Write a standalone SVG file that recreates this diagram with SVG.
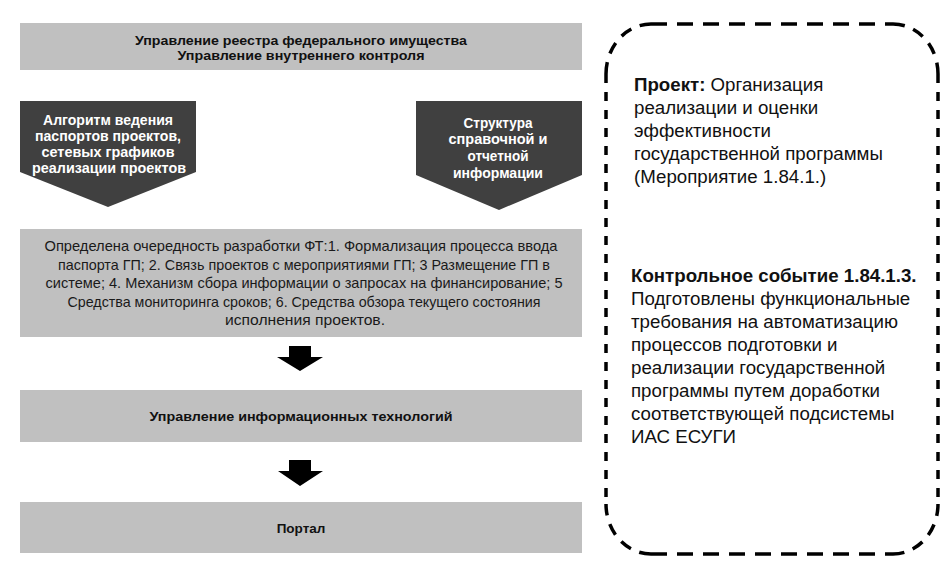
<svg xmlns="http://www.w3.org/2000/svg" width="949" height="577" viewBox="0 0 949 577">
  <style>
    .box { fill: #c0c0c0; }
    .dark { fill: #404040; }
    .hdr { font-family: "Liberation Sans", Arial, sans-serif; font-weight: bold; font-size: 13.5px; fill: #111; text-anchor: middle; }
    .wt { font-family: "Liberation Sans", Arial, sans-serif; font-weight: bold; font-size: 14px; fill: #ffffff; text-anchor: middle; }
    .nar { font-family: "Liberation Sans", Arial, sans-serif; font-size: 15px; fill: #1a1a1a; text-anchor: middle; }
    .side { font-family: "Liberation Sans", Arial, sans-serif; font-size: 18.7px; fill: #111; }
    .b { font-weight: bold; }
    .arrow { fill: #000; }
    .dash { fill: none; stroke: #000; stroke-width: 3.5; }
  </style>

  <g id="top-box">
    <rect class="box" x="20" y="23" width="562" height="47"/>
    <text class="hdr" x="301" y="45" textLength="332" lengthAdjust="spacingAndGlyphs">Управление реестра федерального имущества</text>
    <text class="hdr" x="301" y="60" textLength="247" lengthAdjust="spacingAndGlyphs">Управление внутреннего контроля</text>
  </g>

  <g id="algorithm">
    <polygon class="dark" points="20,101 196,101 196,172 108,207 20,172"/>
    <text class="wt" x="108" y="125" textLength="130" lengthAdjust="spacingAndGlyphs">Алгоритм ведения</text>
    <text class="wt" x="108" y="141" textLength="146" lengthAdjust="spacingAndGlyphs">паспортов проектов,</text>
    <text class="wt" x="108" y="157" textLength="133" lengthAdjust="spacingAndGlyphs">сетевых графиков</text>
    <text class="wt" x="109" y="173" textLength="154" lengthAdjust="spacingAndGlyphs">реализации проектов</text>
  </g>

  <g id="structure">
    <polygon class="dark" points="416,101 582,101 582,175 499,210 416,175"/>
    <text class="wt" x="498" y="128" textLength="69" lengthAdjust="spacingAndGlyphs">Структура</text>
    <text class="wt" x="498" y="144" textLength="99" lengthAdjust="spacingAndGlyphs">справочной и</text>
    <text class="wt" x="498" y="161" textLength="61" lengthAdjust="spacingAndGlyphs">отчетной</text>
    <text class="wt" x="498" y="178" textLength="90" lengthAdjust="spacingAndGlyphs">информации</text>
  </g>

  <g id="order-box">
    <rect class="box" x="20" y="229" width="562" height="108"/>
    <text class="nar" x="301" y="251" textLength="513" lengthAdjust="spacingAndGlyphs">Определена очередность разработки ФТ:1. Формализация процесса ввода</text>
    <text class="nar" x="304" y="270" textLength="492" lengthAdjust="spacingAndGlyphs">паспорта ГП; 2. Связь проектов с мероприятиями ГП; 3 Размещение ГП в</text>
    <text class="nar" x="304" y="288" textLength="517" lengthAdjust="spacingAndGlyphs">системе; 4. Механизм сбора информации о запросах на финансирование; 5</text>
    <text class="nar" x="304" y="307" textLength="473" lengthAdjust="spacingAndGlyphs">Средства мониторинга сроков; 6. Средства обзора текущего состояния</text>
    <text class="nar" x="305" y="325" textLength="160" lengthAdjust="spacingAndGlyphs">исполнения проектов.</text>
  </g>

  <g id="it-box">
    <rect class="box" x="20" y="390" width="562" height="52"/>
    <text class="hdr" x="301" y="421" textLength="303" lengthAdjust="spacingAndGlyphs">Управление информационных технологий</text>
  </g>

  <g id="portal-box">
    <rect class="box" x="20" y="502" width="562" height="51"/>
    <text class="hdr" x="301" y="533">Портал</text>
  </g>

  <g id="connectors">
    <polygon class="arrow" points="289,346 311,346 311,357 323,357 300,371 277,357 289,357"/>
    <polygon class="arrow" points="289,460 311,460 311,471 323,471 300,486 278,471 289,471"/>
  </g>

  <g id="project-note">
    <g class="dash">
      <line x1="651" y1="24" x2="893" y2="24" stroke-dasharray="16 10"/>
      <line x1="651" y1="554" x2="893" y2="554" stroke-dasharray="16 10"/>
      <line x1="606" y1="74" x2="606" y2="504" stroke-dasharray="9 9"/>
      <line x1="938" y1="74" x2="938" y2="504" stroke-dasharray="9 9"/>
      <path d="M606,74 A45,50 0 0 1 651,24" stroke-dasharray="12 9"/>
      <path d="M893,24 A45,50 0 0 1 938,74" stroke-dasharray="12 9"/>
      <path d="M938,504 A45,50 0 0 1 893,554" stroke-dasharray="12 9"/>
      <path d="M651,554 A45,50 0 0 1 606,504" stroke-dasharray="12 9"/>
    </g>
    <text class="side" x="634" y="91"><tspan class="b">Проект:</tspan> Организация</text>
    <text class="side" x="634" y="114">реализации и оценки</text>
    <text class="side" x="634" y="137">эффективности</text>
    <text class="side" x="634" y="160">государственной программы</text>
    <text class="side" x="634" y="183">(Мероприятие 1.84.1.)</text>
    <text class="side b" x="631" y="282">Контрольное событие 1.84.1.3.</text>
    <text class="side" x="631" y="305">Подготовлены функциональные</text>
    <text class="side" x="631" y="328">требования на автоматизацию</text>
    <text class="side" x="631" y="351">процессов подготовки и</text>
    <text class="side" x="631" y="374">реализации государственной</text>
    <text class="side" x="631" y="397">программы путем доработки</text>
    <text class="side" x="631" y="420">соответствующей подсистемы</text>
    <text class="side" x="631" y="443">ИАС ЕСУГИ</text>
  </g>
</svg>
